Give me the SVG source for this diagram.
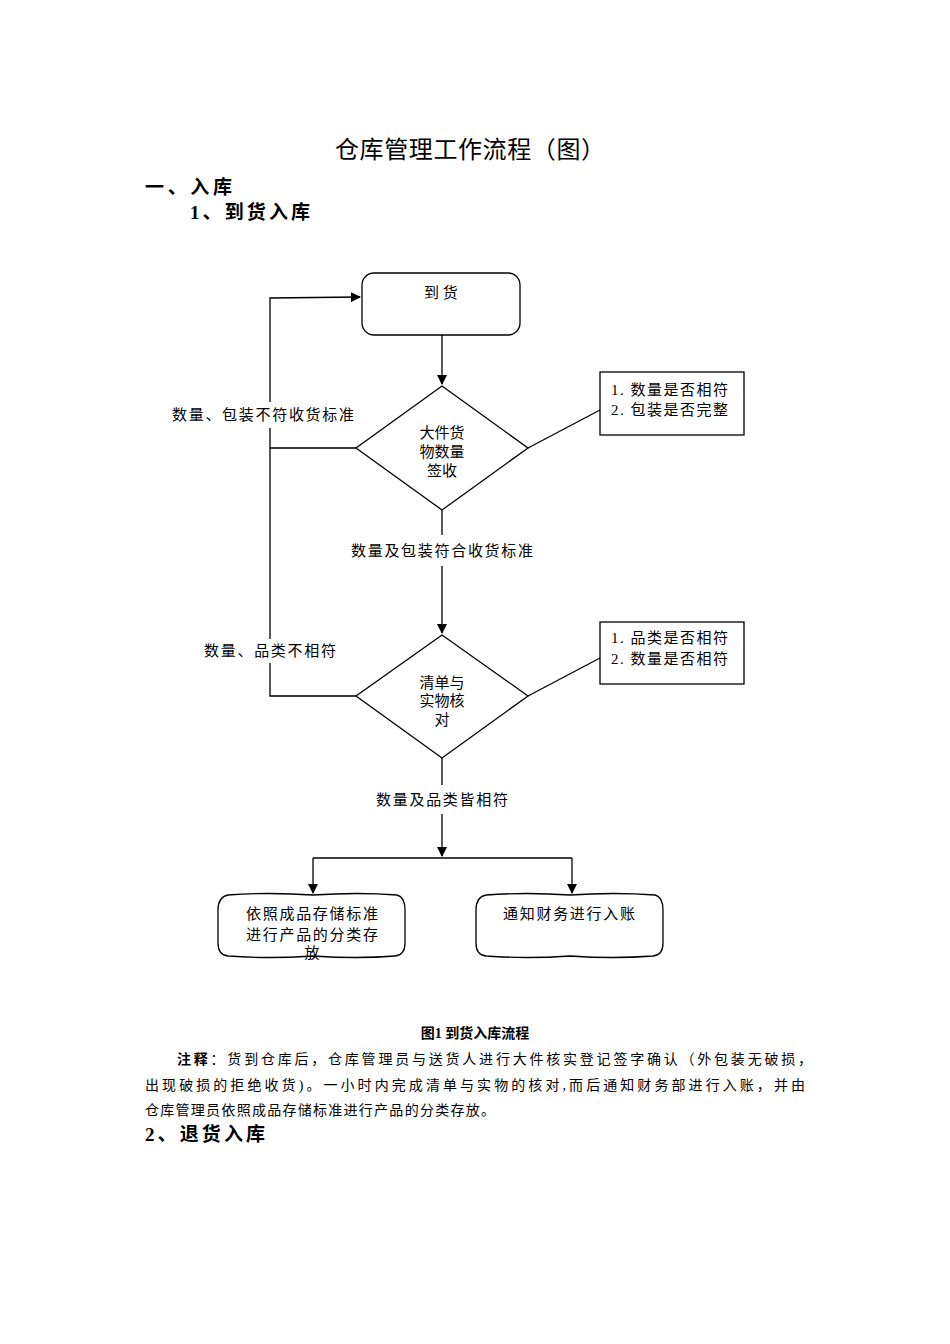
<svg xmlns="http://www.w3.org/2000/svg" width="950" height="1344" viewBox="0 0 950 1344">
<defs>
<marker id="ar" markerWidth="10" markerHeight="10" refX="9" refY="5" orient="auto" markerUnits="userSpaceOnUse"><path d="M0,0 L10,5 L0,10 Z" fill="#000"/></marker>
<style>
.t{font-family:"Liberation Serif","Noto Sans CJK SC",serif;fill:#000}
.s{fill:#fff;stroke:#000;stroke-width:1.3}
.l{fill:none;stroke:#000;stroke-width:1.3}
.f{font-size:15px}
.b{font-weight:bold}
</style>
</defs>
<rect width="950" height="1344" fill="#fff"/>
<text class="t" x="335" y="158" font-size="24" textLength="270" lengthAdjust="spacing">仓库管理工作流程（图）</text>
<text class="t b" x="145" y="194" font-size="19" textLength="87" lengthAdjust="spacing">一、入库</text>
<text class="t b" x="190" y="219" font-size="19" textLength="120" lengthAdjust="spacing">1、到货入库</text>
<g id="connectors">
<path class="l" d="M442,335 V384" marker-end="url(#ar)"/>
<path class="l" d="M528,448 L600,410"/>
<path class="l" d="M356,448 H270 V298 L360,297" marker-end="url(#ar)"/>
<path class="l" d="M442,510 V535 M442,566 V633" marker-end="url(#ar)"/>
<path class="l" d="M528,696 L600,658"/>
<path class="l" d="M356,696 H270 V448"/>
<path class="l" d="M442,758 V785 M442,814 V856" marker-end="url(#ar)"/>
<path class="l" d="M313,858 H572"/>
<path class="l" d="M313,858 V893" marker-end="url(#ar)"/>
<path class="l" d="M572,858 V893" marker-end="url(#ar)"/>
<rect x="170" y="402" width="190" height="26" fill="#fff"/>
<text class="t f" x="263" y="420" text-anchor="middle" textLength="182" lengthAdjust="spacing">数量、包装不符收货标准</text>
<rect x="200" y="639" width="140" height="24" fill="#fff"/>
<text class="t f" x="270" y="656" text-anchor="middle" textLength="132" lengthAdjust="spacing">数量、品类不相符</text>
<text class="t f" x="442" y="556" text-anchor="middle" textLength="182" lengthAdjust="spacing">数量及包装符合收货标准</text>
<text class="t f" x="442" y="805" text-anchor="middle" textLength="132" lengthAdjust="spacing">数量及品类皆相符</text>
</g>
<g id="n1"><rect class="s" x="362" y="273" width="158" height="62" rx="12"/><text class="t f" x="441" y="298" text-anchor="middle">到  货</text></g>
<g id="n2"><path class="s" d="M442,386 L528,448 L442,510 L356,448 Z"/><text class="t f" x="442" y="438" text-anchor="middle">大件货</text><text class="t f" x="442" y="457" text-anchor="middle">物数量</text><text class="t f" x="442" y="476" text-anchor="middle">签收</text></g>
<g id="n3"><rect class="s" x="600" y="372" width="144" height="63"/><text class="t f" x="611" y="395" textLength="117" lengthAdjust="spacing">1. 数量是否相符</text><text class="t f" x="611" y="415" textLength="117" lengthAdjust="spacing">2. 包装是否完整</text></g>
<g id="n4"><path class="s" d="M442,635 L528,696 L442,758 L356,696 Z"/><text class="t f" x="442" y="688" text-anchor="middle">清单与</text><text class="t f" x="442" y="706" text-anchor="middle">实物核</text><text class="t f" x="442" y="725" text-anchor="middle">对</text></g>
<g id="n5"><rect class="s" x="600" y="622" width="144" height="62"/><text class="t f" x="611" y="643" textLength="117" lengthAdjust="spacing">1. 品类是否相符</text><text class="t f" x="611" y="664" textLength="117" lengthAdjust="spacing">2. 数量是否相符</text></g>
<g id="n6"><path class="s" d="M228,895 Q268,892 313,895 Q358,892 397,895 Q405,897 405,910 V943 Q405,955 395,956 Q358,959 313,956 Q268,959 228,956 Q218,955 218,943 V910 Q218,897 228,895 Z"/><text class="t f" x="312" y="919" text-anchor="middle" textLength="132" lengthAdjust="spacing">依照成品存储标准</text><text class="t f" x="312" y="940" text-anchor="middle" textLength="132" lengthAdjust="spacing">进行产品的分类存</text><text class="t f" x="312" y="958" text-anchor="middle">放</text></g>
<g id="n7"><path class="s" d="M486,895 Q526,892 570,895 Q614,892 655,895 Q663,897 663,910 V943 Q663,955 653,956 Q614,959 570,956 Q526,959 486,956 Q476,955 476,943 V910 Q476,897 486,895 Z"/><text class="t f" x="569" y="919" text-anchor="middle" textLength="132" lengthAdjust="spacing">通知财务进行入账</text></g>
<text class="t b" x="475" y="1038" font-size="14" text-anchor="middle">图1  到货入库流程</text>
<text class="t" x="177" y="1064" font-size="14" textLength="635" lengthAdjust="spacing"><tspan font-weight="bold">注释</tspan>：货到仓库后，仓库管理员与送货人进行大件核实登记签字确认（外包装无破损，</text>
<text class="t" x="145" y="1090" font-size="14" textLength="660" lengthAdjust="spacing">出现破损的拒绝收货)。一小时内完成清单与实物的核对,而后通知财务部进行入账，并由</text>
<text class="t" x="145" y="1115" font-size="14" textLength="350" lengthAdjust="spacing">仓库管理员依照成品存储标准进行产品的分类存放。</text>
<text class="t b" x="145" y="1141" font-size="19" textLength="120" lengthAdjust="spacing">2、退货入库</text>
</svg>
